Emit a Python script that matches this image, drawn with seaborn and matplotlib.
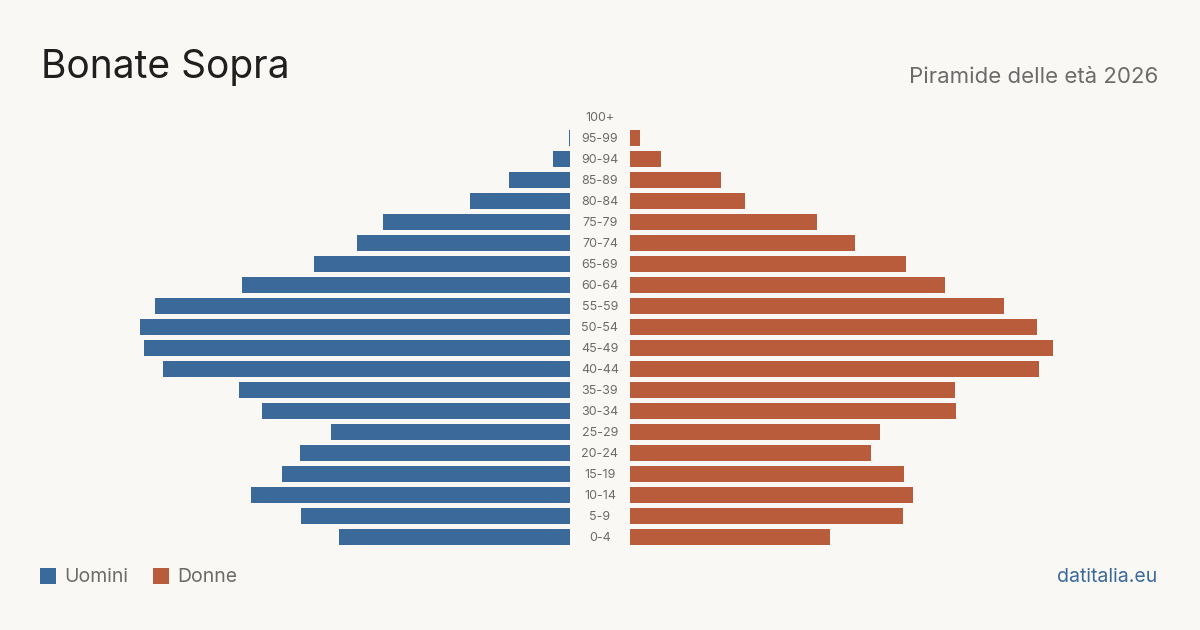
import matplotlib
matplotlib.use("Agg")
import matplotlib.pyplot as plt
import seaborn as sns
import pandas as pd
from matplotlib.patches import Rectangle

# ---- data ----
age_groups = ["100+", "95-99", "90-94", "85-89", "80-84", "75-79", "70-74", "65-69",
              "60-64", "55-59", "50-54", "45-49", "40-44", "35-39", "30-34", "25-29",
              "20-24", "15-19", "10-14", "5-9", "0-4"]
men = [0, 1, 17, 61, 100, 187, 213, 256, 328, 415, 430, 426, 407, 331, 308, 239,
       270, 288, 319, 269, 231]
women = [0, 10, 31, 91, 115, 187, 225, 276, 315, 374, 407, 423, 409, 325, 326, 250,
         241, 274, 283, 273, 200]

title = "Bonate Sopra"
subtitle = "Piramide delle età 2026"
legend_labels = ["Uomini", "Donne"]
source = "datitalia.eu"

BG = "#f9f8f4"
BLUE = "#3b6a9a"
ORANGE = "#b95c3c"
GRAY = "#6b6b6b"

sns.set_theme(style="white")
plt.rcParams["font.family"] = ["Inter", "DejaVu Sans"]

df = pd.DataFrame({"age": age_groups, "men": men, "women": women})

W, H = 1200, 630
fig = plt.figure(figsize=(12, 6.3), dpi=100, facecolor=BG)

top_px, bot_px = 106.5, 547.5
ax_b = (H - bot_px) / H
ax_h = (bot_px - top_px) / H

axL = fig.add_axes([130 / W, ax_b, 440 / W, ax_h])
axR = fig.add_axes([630 / W, ax_b, 440 / W, ax_h])

sns.barplot(data=df, x="men", y="age", order=age_groups, orient="h",
            color=BLUE, saturation=1, width=0.8, ax=axL)
sns.barplot(data=df, x="women", y="age", order=age_groups, orient="h",
            color=ORANGE, saturation=1, width=0.8, ax=axR)

axL.set_xlim(440, 0)
axR.set_xlim(0, 440)
for ax in (axL, axR):
    ax.set_ylim(len(age_groups) - 0.5, -0.5)
    ax.set_facecolor("none")
    ax.axis("off")
    for p in ax.patches:
        p.set_linewidth(0)

# age labels in the centre
for i, lab in enumerate(age_groups):
    y = 1 - (118 + 21 * i) / H
    fig.text(600 / W, y, lab, ha="center", va="center", fontsize=9, color=GRAY)

fig.text(41 / W, 1 - 67 / H, title, ha="left", va="center", fontsize=28, color="#1f1f1f")
fig.text(1158 / W, 1 - 77 / H, subtitle, ha="right", va="center", fontsize=16, color=GRAY)

# legend
for x0, col, lab, tx in [(40, BLUE, legend_labels[0], 64), (153, ORANGE, legend_labels[1], 177)]:
    fig.patches.append(Rectangle((x0 / W, 1 - 584 / H), 16 / W, 16 / H,
                                 transform=fig.transFigure, facecolor=col, edgecolor="none"))
    fig.text(tx / W, 1 - 577 / H, lab, ha="left", va="center", fontsize=14, color=GRAY)

fig.text(1157 / W, 1 - 577 / H, source, ha="right", va="center", fontsize=14, color=BLUE)

fig.savefig("out.png", dpi=100, facecolor=BG)
